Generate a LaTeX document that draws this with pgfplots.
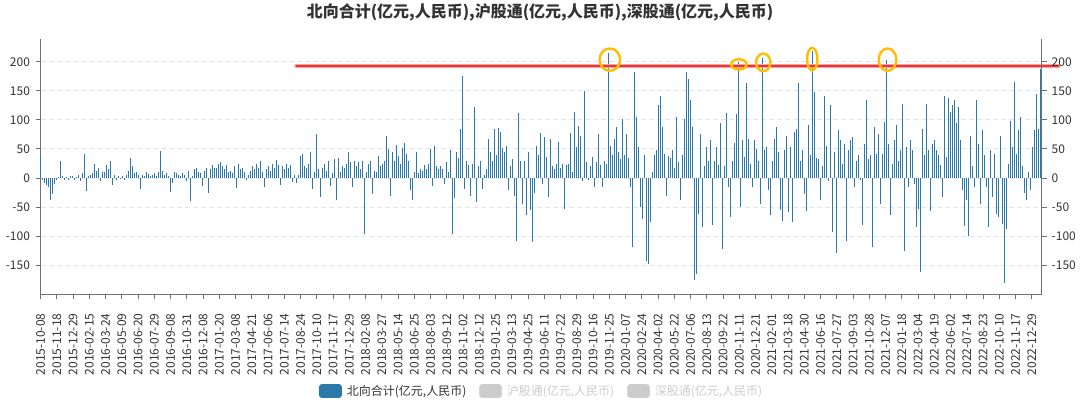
\documentclass[border=0pt]{standalone}
\usepackage{fontspec}
\setmainfont{Noto Sans CJK SC}
\usepackage{pgfplots}
\usepackage{pgfplotstable}
\pgfplotsset{compat=1.18}
\definecolor{barblue}{RGB}{42,121,168}
\definecolor{axisgray}{RGB}{110,112,121}
\definecolor{gridgray}{RGB}{226,229,236}
\definecolor{labelgray}{RGB}{51,51,51}
\definecolor{inactive}{RGB}{204,204,204}
\definecolor{gold}{RGB}{255,190,0}
\definecolor{redline}{RGB}{236,52,52}
\definecolor{redhalo}{RGB}{250,165,165}

\pgfplotstableread[row sep=\\]{
y\\
38\\ -3\\ -8\\ -12\\ -15\\ -38\\ -28\\ -10\\
-3\\ 2\\ 30\\ 3\\ -4\\ 2\\ -4\\ 3\\
4\\ -3\\ 2\\ 6\\ -5\\ 8\\ 42\\ -22\\
3\\ 5\\ 8\\ 24\\ 12\\ 18\\ -5\\ 10\\
10\\ 22\\ 15\\ 30\\ -12\\ 5\\ -3\\ 3\\
-2\\ 3\\ -3\\ 5\\ 12\\ 35\\ 20\\ 8\\
10\\ 5\\ -18\\ 6\\ 3\\ 10\\ 7\\ 4\\
5\\ 8\\ 3\\ 10\\ 47\\ 12\\ 6\\ 9\\
4\\ -24\\ -8\\ 10\\ 8\\ 6\\ 3\\ 9\\
5\\ -5\\ 12\\ -40\\ 3\\ 15\\ 18\\ 10\\
8\\ -14\\ 12\\ 18\\ -25\\ 15\\ 22\\ 18\\
18\\ 25\\ 28\\ 20\\ 15\\ 22\\ 10\\ 12\\
8\\ 20\\ -17\\ 25\\ 15\\ 18\\ 10\\ -3\\
6\\ 12\\ 20\\ 15\\ 25\\ 18\\ 30\\ 10\\
-16\\ 15\\ 20\\ 12\\ 25\\ 18\\ 31\\ 22\\
-12\\ 20\\ 15\\ 25\\ 18\\ 22\\ -7\\ 5\\
-8\\ 5\\ 38\\ 42\\ 20\\ 18\\ 25\\ 44\\
-18\\ 10\\ 76\\ 15\\ -32\\ 18\\ 25\\ 12\\
30\\ -14\\ 8\\ 32\\ -38\\ 35\\ 10\\ 20\\
18\\ 25\\ 44\\ 28\\ -15\\ 30\\ 20\\ 28\\
15\\ 30\\ -97\\ 10\\ 25\\ 30\\ -27\\ 12\\
10\\ 38\\ 20\\ 25\\ 30\\ 72\\ 50\\ -30\\
45\\ 30\\ 57\\ 38\\ 25\\ 52\\ 60\\ 42\\
30\\ -20\\ -37\\ 10\\ 44\\ 8\\ 15\\ 12\\
22\\ 15\\ 25\\ 50\\ -14\\ 55\\ 20\\ 15\\
20\\ 15\\ -10\\ 28\\ 10\\ 48\\ -97\\ -35\\
45\\ 35\\ 85\\ 175\\ -18\\ 30\\ 22\\ -30\\
25\\ 122\\ -42\\ 20\\ 30\\ -18\\ 5\\ 15\\
68\\ 45\\ 30\\ 85\\ 40\\ 86\\ 80\\ 52\\
45\\ 55\\ -21\\ 20\\ 33\\ -30\\ -108\\ 112\\
30\\ -44\\ 30\\ -64\\ 45\\ -55\\ -110\\ -25\\
55\\ 40\\ 78\\ -10\\ 70\\ 36\\ -32\\ 68\\
20\\ 15\\ 25\\ 62\\ 18\\ 25\\ -53\\ 22\\
25\\ 78\\ 10\\ 113\\ 53\\ 90\\ 72\\ -5\\
150\\ 28\\ -4\\ 20\\ 37\\ -15\\ 28\\ 75\\
22\\ -15\\ 30\\ 25\\ 215\\ 56\\ 40\\ 68\\
88\\ 45\\ 33\\ 102\\ 40\\ 76\\ 35\\ -15\\
-119\\ 182\\ 105\\ 53\\ -50\\ -70\\ 40\\ -143\\
-147\\ -75\\ 10\\ 40\\ 48\\ 125\\ 142\\ 88\\
42\\ -30\\ 38\\ 35\\ 48\\ 18\\ 105\\ 28\\
-38\\ 40\\ 102\\ 182\\ 171\\ 134\\ 88\\ -175\\
-165\\ -61\\ 76\\ -84\\ 20\\ 53\\ 30\\ 65\\
-80\\ 30\\ 53\\ 22\\ 95\\ -122\\ 20\\ 112\\
-15\\ -67\\ 30\\ 60\\ 111\\ 200\\ -50\\ 65\\
36\\ 163\\ 68\\ 25\\ -15\\ 65\\ 50\\ 30\\
-44\\ 207\\ 48\\ 53\\ -21\\ -64\\ 30\\ 68\\
88\\ 45\\ -55\\ -73\\ 48\\ 73\\ -58\\ 53\\
-76\\ 79\\ 85\\ 163\\ 30\\ 48\\ -27\\ -56\\
91\\ 40\\ 218\\ 148\\ 35\\ 33\\ -38\\ 20\\
142\\ 56\\ -5\\ 125\\ -93\\ 45\\ -129\\ 82\\
65\\ 25\\ 59\\ -109\\ 48\\ 65\\ 70\\ -15\\
30\\ 39\\ -4\\ -80\\ 59\\ 134\\ 33\\ 39\\
-119\\ 88\\ 42\\ 76\\ -44\\ 42\\ 96\\ 203\\
59\\ -64\\ 25\\ 65\\ 91\\ 30\\ 48\\ 128\\
-125\\ 53\\ -15\\ 65\\ 48\\ -10\\ -84\\ -53\\
-161\\ 85\\ 40\\ 128\\ 48\\ -56\\ 59\\ 65\\
48\\ 39\\ 22\\ -33\\ 142\\ 36\\ 137\\ 114\\
125\\ 134\\ 94\\ 122\\ 65\\ -21\\ -82\\ -38\\
-99\\ 73\\ 20\\ -15\\ 134\\ 59\\ -44\\ 82\\
39\\ -15\\ -84\\ 48\\ -33\\ 42\\ -61\\ -67\\
73\\ -79\\ -180\\ -87\\ 25\\ 99\\ 53\\ 165\\
42\\ 82\\ 105\\ 20\\ -25\\ -38\\ 10\\ -20\\
53\\ 82\\ 145\\ 85\\ 188\\
}\flows

\begin{document}
\begin{tikzpicture}
\pgfplotsset{
  common/.style={
    at={(30.4pt,81.5pt)}, anchor=south west,
    scale only axis, width=750.9pt, height=191.85pt,
    xmin=0, xmax=500.6, ymin=-200, ymax=240,
    axis line style={axisgray, line width=0.75pt, -},
    tick align=outside,
    major tick length=3.75pt,
    tick style={axisgray, line width=0.75pt},
    ytick={-150,-100,...,200},
    /pgf/number format/assume math mode=true,
    tick label style={font=\fontsize{9}{9}\selectfont, text=labelgray},
  }
}
\begin{axis}[
  common,
  axis x line*=bottom, axis y line*=left,
  xtick={0,8.125,...,496},
  xticklabels={2015-10-08,2015-11-18,2015-12-29,2016-02-15,2016-03-24,2016-05-09,2016-06-20,2016-07-29,2016-09-08,2016-10-31,2016-12-08,2017-01-20,2017-03-08,2017-04-21,2017-06-06,2017-07-14,2017-08-24,2017-10-10,2017-11-17,2017-12-29,2018-02-08,2018-03-27,2018-05-14,2018-06-25,2018-08-03,2018-09-12,2018-11-02,2018-12-12,2019-01-25,2019-03-13,2019-04-25,2019-06-11,2019-07-22,2019-08-29,2019-10-16,2019-11-25,2020-01-07,2020-02-24,2020-04-02,2020-05-22,2020-07-06,2020-08-13,2020-09-22,2020-11-11,2020-12-21,2021-02-01,2021-03-18,2021-04-30,2021-06-16,2021-07-27,2021-09-03,2021-10-28,2021-12-07,2022-01-18,2022-03-04,2022-04-19,2022-06-02,2022-07-14,2022-08-23,2022-10-10,2022-11-17,2022-12-29},
  x tick label style={rotate=90, anchor=east, inner sep=0pt},
  xticklabel shift=10.5pt,
  y tick label style={inner sep=0pt},
  yticklabel shift=4pt,
  ymajorgrids,
  grid style={gridgray, line width=0.75pt, dash pattern=on 3.75pt off 2.25pt},
  clip=false,
  legend columns=3,
  legend style={draw=none, fill=none, at={(0.4995,-0.378)}, anchor=center,
    font=\fontsize{9}{9}\selectfont, text=labelgray,
    nodes={inner sep=0pt},
    /tikz/every odd column/.append style={column sep=3.75pt},
    /tikz/every even column/.append style={column sep=9.75pt}},
]
\addplot[ycomb, barblue, line width=0.65pt, mark=none,
  legend image code/.code={\fill[barblue, rounded corners=2pt] (0pt,-4.9pt) rectangle (16.5pt,4.9pt);}]
  table[x expr=\coordindex, y=y]{\flows};
\addlegendentry{北向合计(亿元,人民币)}
\addlegendimage{legend image code/.code={\fill[inactive, rounded corners=2pt] (0pt,-4.9pt) rectangle (16.5pt,4.9pt);}}
\addlegendentry{\textcolor{inactive}{沪股通(亿元,人民币)}}
\addlegendimage{legend image code/.code={\fill[inactive, rounded corners=2pt] (0pt,-4.9pt) rectangle (16.5pt,4.9pt);}}
\addlegendentry{\textcolor{inactive}{深股通(亿元,人民币)}}
\addplot[redhalo, line width=3pt, line cap=round, forget plot] coordinates {(127.85,192.6) (509,192.6)};
\addplot[redline, line width=1.2pt, line cap=round, forget plot] coordinates {(127.85,192.6) (509,192.6)};
\draw[gold, line width=1.8pt] (axis cs:284.65,203.6) ellipse [x radius=7.7pt, y radius=8.4pt];
\draw[gold, line width=1.8pt] (axis cs:349.15,195.5) ellipse [x radius=5.8pt, y radius=3.9pt];
\draw[gold, line width=1.8pt] (axis cs:361.35,199.0) ellipse [x radius=5.4pt, y radius=6.6pt];
\draw[gold, line width=1.8pt] (axis cs:385.85,204.7) ellipse [x radius=3.9pt, y radius=8.4pt];
\draw[gold, line width=1.8pt] (axis cs:423.5,203.6) ellipse [x radius=6.6pt, y radius=8.4pt];
\end{axis}
\begin{axis}[
  common,
  axis x line=none, axis y line*=right,
  y tick label style={inner sep=0pt},
  yticklabel shift=3.5pt,
]
\addplot[draw=none] coordinates {(0,0)};
\end{axis}
\node[font=\bfseries\fontsize{12}{12}\selectfont, text=labelgray] at (405pt,292.9pt) {北向合计(亿元,人民币),沪股通(亿元,人民币),深股通(亿元,人民币)};
\pgfresetboundingbox
\path[use as bounding box] (0pt,0pt) rectangle (810pt,302.25pt);
\end{tikzpicture}
\end{document}
